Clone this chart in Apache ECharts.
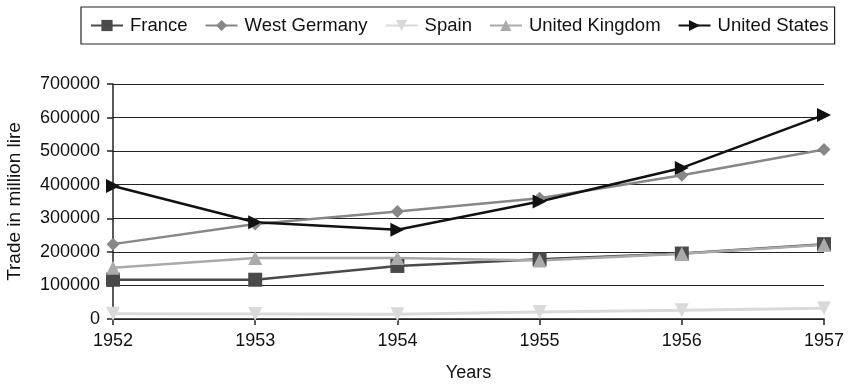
<!DOCTYPE html>
<html>
<head>
<meta charset="utf-8">
<script src="https://cdn.jsdelivr.net/npm/echarts@6/dist/echarts.min.js"></script>
<style>
html, body { margin: 0; padding: 0; background: #fff; }
#chart { width: 851px; height: 385px; }
</style>
</head>
<body>
<div id="chart"></div>
<script>
var years = ['1952', '1953', '1954', '1955', '1956', '1957'];
var france = [117000, 117000, 158000, 178000, 195000, 223000];
var westGermany = [223000, 283000, 320000, 360000, 428000, 505000];
var spain = [16000, 15000, 14000, 21000, 26000, 32000];
var unitedKingdom = [153000, 182000, 182000, 174000, 194000, 221000];
var unitedStates = [396000, 288000, 266000, 350000, 450000, 608000];

var font = 'Liberation Sans, Arial, sans-serif';

var makeSeries = function (name, data, color, symbol, size, rotate, width) {
    return {
        name: name,
        type: 'line',
        data: data,
        symbol: symbol,
        symbolSize: size,
        symbolRotate: rotate,
        itemStyle: { color: color },
        lineStyle: { color: color, width: width },
        emphasis: { disabled: true },
        animation: false
    };
};

var chart = echarts.init(document.getElementById('chart'));
chart.setOption({
    backgroundColor: '#fff',
    textStyle: { fontFamily: font },
    legend: {
        left: 81,
        top: 7,
        padding: [9, 6, 9, 9],
        borderColor: '#222',
        borderWidth: 1.2,
        itemWidth: 32,
        itemHeight: 14,
        itemGap: 17,
        textStyle: { fontSize: 18.5, color: '#111', fontFamily: font, padding: [0, 0, 0, 2] },
        data: ['France', 'West Germany', 'Spain', 'United Kingdom', 'United States']
    },
    grid: { left: 113, right: 27, top: 84, bottom: 66, outerBoundsMode: 'none', containLabel: false },
    xAxis: {
        type: 'category',
        data: years,
        boundaryGap: false,
        name: 'Years',
        nameLocation: 'middle',
        nameGap: 45,
        nameTextStyle: { fontSize: 18, color: '#111' },
        axisLine: { lineStyle: { color: '#222', width: 1.5 } },
        axisTick: { show: true, alignWithLabel: true, length: 6, lineStyle: { color: '#222', width: 1.5 } },
        axisLabel: { fontSize: 18, color: '#111', margin: 13 },
        splitLine: { show: false }
    },
    yAxis: {
        type: 'value',
        min: 0,
        max: 700000,
        interval: 100000,
        name: 'Trade in million lire',
        nameLocation: 'middle',
        nameGap: 89,
        nameTextStyle: { fontSize: 19, color: '#111' },
        axisLine: { show: true, lineStyle: { color: '#222', width: 1.5 } },
        axisTick: { show: true, length: 6, lineStyle: { color: '#222', width: 1.5 } },
        axisLabel: { fontSize: 18, color: '#111', margin: 13, formatter: function (v) { return String(v); } },
        splitLine: { show: true, lineStyle: { color: '#222', width: 1.2 } }
    },
    series: [
        makeSeries('France', france, '#4a4a4a', 'rect', 14, 0, 2.5),
        makeSeries('West Germany', westGermany, '#878787', 'diamond', 13, 0, 2.5),
        makeSeries('Spain', spain, '#d9d9d9', 'triangle', 14, 180, 3),
        makeSeries('United Kingdom', unitedKingdom, '#aaaaaa', 'triangle', 14, 0, 2.5),
        makeSeries('United States', unitedStates, '#111111', 'triangle', 14, -90, 2.5)
    ]
});
</script>
</body>
</html>
